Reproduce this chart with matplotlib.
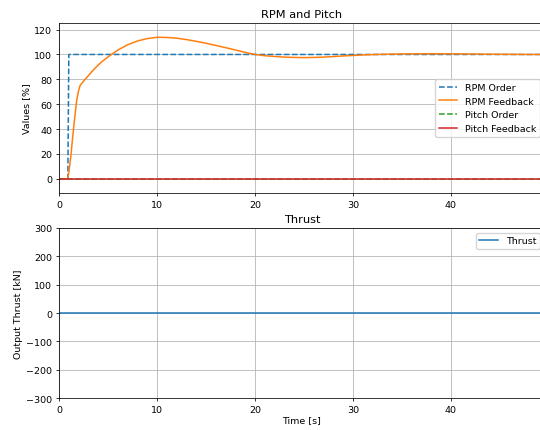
import numpy as np
import matplotlib
matplotlib.use('Agg')
import matplotlib.pyplot as plt

# Datos
t_order = [0.0, 0.9, 1.0, 49.6]
rpm_order = [0, 0, 100, 100]

t_fb = [0.0, 0.85, 1.0, 1.2, 1.4, 1.6, 1.8, 2.0, 2.15, 2.5, 3.0, 3.5, 4.0, 4.5,
        5.0, 5.5, 6.0, 7.0, 8.0, 9.0, 10.0, 11.0, 12.0, 13.0, 14.0, 15.0,
        16.0, 17.0, 18.0, 19.0, 20.0, 21.0, 22.0, 23.0, 24.0, 25.0, 26.0,
        27.0, 28.0, 29.0, 30.0, 31.0, 32.0, 33.0, 34.0, 36.0, 38.0, 40.0,
        42.0, 44.0, 46.0, 48.0, 49.6]
rpm_feedback = [0, 0, 5, 18, 34, 49, 63, 71, 75, 78.5, 83, 87.5, 91.5, 95,
                98, 100.8, 103.5, 107.8, 110.8, 112.8, 113.8, 113.7, 113.1,
                112.0, 110.6, 109.0, 107.3, 105.5, 103.6, 101.7, 100.0, 99.0,
                98.4, 97.9, 97.6, 97.5, 97.6, 97.9, 98.3, 98.8, 99.2, 99.6,
                99.9, 100.1, 100.3, 100.5, 100.6, 100.5, 100.4, 100.2, 100.1,
                100.0, 100.0]

t_pitch = [0.0, 49.6]
pitch_order = [0, 0]
pitch_feedback = [0, 0]

t_thrust = [0.0, 49.6]
thrust = [0, 0]

plt.rcParams['font.size'] = 6.8
plt.rcParams['axes.titlesize'] = 8.2
plt.rcParams['lines.linewidth'] = 1.1
plt.rcParams['grid.linewidth'] = 0.55
plt.rcParams['axes.linewidth'] = 0.55
plt.rcParams['xtick.major.width'] = 0.55
plt.rcParams['ytick.major.width'] = 0.55
plt.rcParams['xtick.major.size'] = 2.4
plt.rcParams['ytick.major.size'] = 2.4
plt.rcParams['xtick.major.pad'] = 2.4
plt.rcParams['ytick.major.pad'] = 2.4

fig = plt.figure(figsize=(5.4, 4.31), dpi=100)
ax1 = fig.add_axes([0.1093, 0.5499, 1.009 - 0.1093, 0.9443 - 0.5499])
ax2 = fig.add_axes([0.1093, 0.0742, 1.009 - 0.1093, 0.4687 - 0.0742])

# Panel 1: RPM y Pitch
ax1.plot(t_order, rpm_order, '--', color='C0', label='RPM Order')
ax1.plot(t_fb, rpm_feedback, '-', color='C1', label='RPM Feedback')
ax1.plot(t_pitch, pitch_order, '--', color='C2', label='Pitch Order')
ax1.plot(t_pitch, pitch_feedback, '-', color='C3', label='Pitch Feedback')
ax1.set_title('RPM and Pitch', pad=4)
ax1.set_ylabel('Values [%]', labelpad=2.5)
ax1.set_xlim(0, 49.6)
ax1.set_ylim(-11.4, 125.3)
ax1.set_xticks([0, 10, 20, 30, 40])
ax1.grid(True)
ax1.legend(loc='center right')

# Panel 2: Thrust
ax2.plot(t_thrust, thrust, '-', color='C0', label='Thrust')
ax2.set_title('Thrust', pad=4)
ax2.set_ylabel('Output Thrust [kN]', labelpad=2.5)
ax2.set_xlabel('Time [s]', labelpad=1.0)
ax2.set_xlim(0, 49.6)
ax2.set_ylim(-300, 300)
ax2.set_xticks([0, 10, 20, 30, 40])
ax2.grid(True)
ax2.legend(loc='upper right')

fig.savefig('out.png', dpi=100)
